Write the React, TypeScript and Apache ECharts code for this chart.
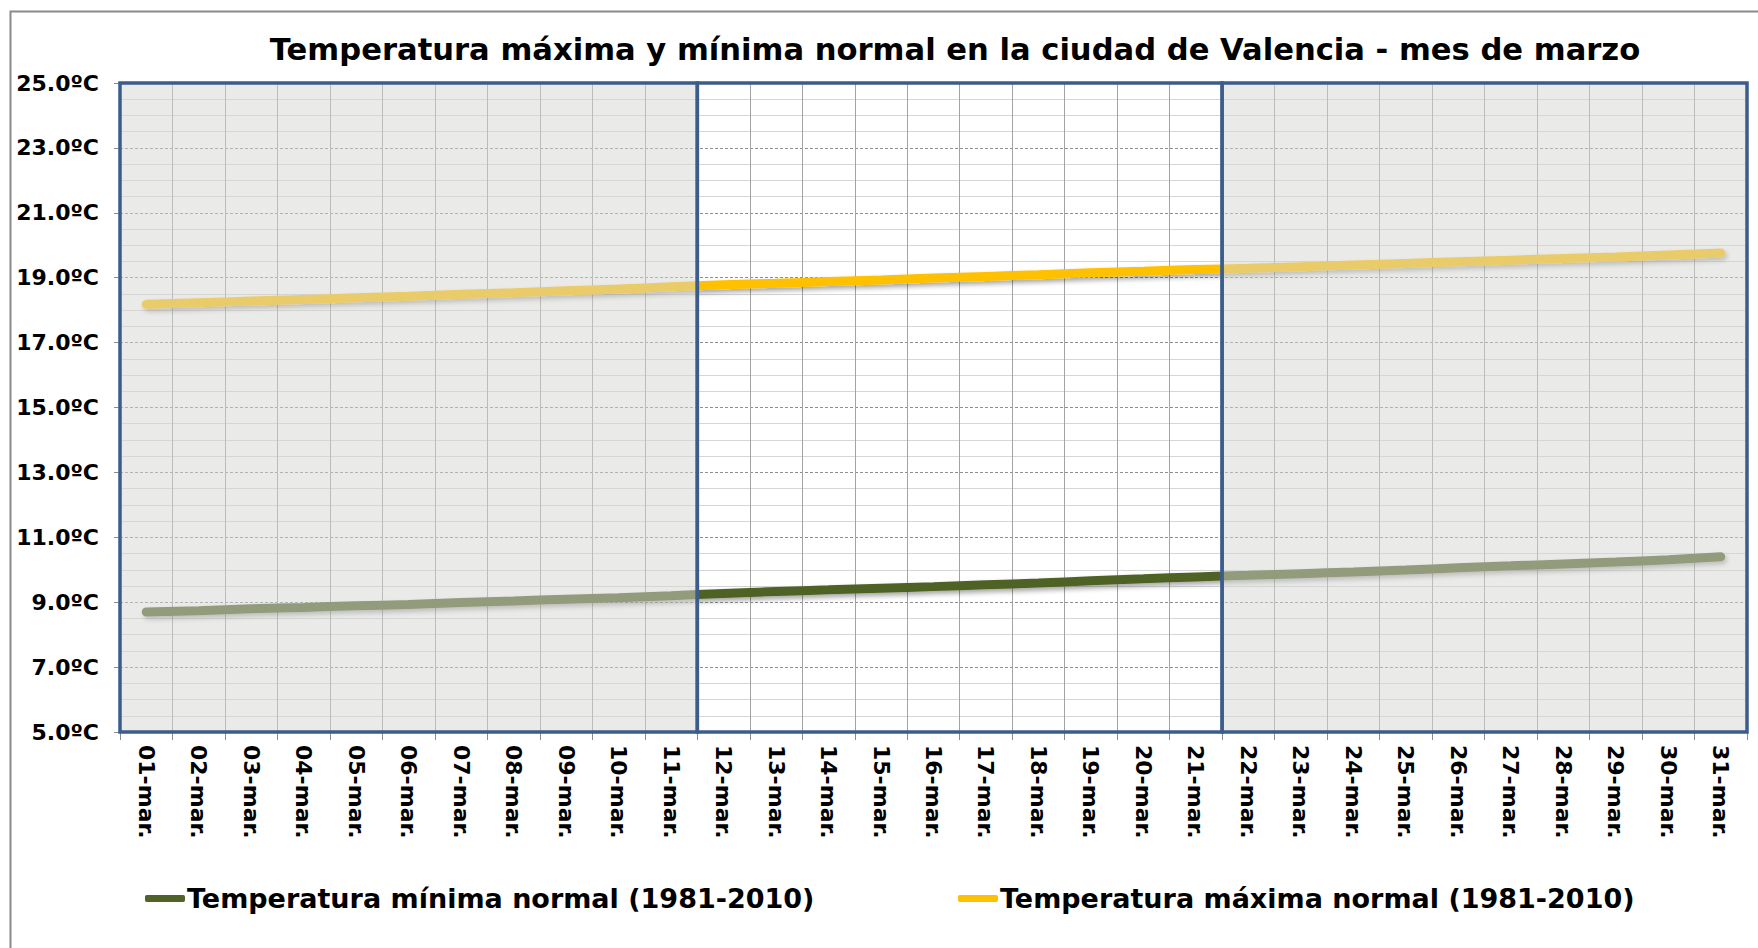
import React, { useEffect, useRef } from "react";
import * as echarts from "echarts";

const days: string[] = [
  "01-mar.", "02-mar.", "03-mar.", "04-mar.", "05-mar.", "06-mar.", "07-mar.", "08-mar.",
  "09-mar.", "10-mar.", "11-mar.", "12-mar.", "13-mar.", "14-mar.", "15-mar.", "16-mar.",
  "17-mar.", "18-mar.", "19-mar.", "20-mar.", "21-mar.", "22-mar.", "23-mar.", "24-mar.",
  "25-mar.", "26-mar.", "27-mar.", "28-mar.", "29-mar.", "30-mar.", "31-mar.",
];

const tMin: number[] = [
  8.70, 8.74, 8.80, 8.84, 8.89, 8.93, 8.99, 9.04, 9.09, 9.14, 9.20,
  9.27, 9.33, 9.38, 9.43, 9.48, 9.54, 9.59, 9.66, 9.72, 9.78,
  9.83, 9.88, 9.93, 9.99, 10.06, 10.12, 10.18, 10.24, 10.31, 10.40,
];

const tMax: number[] = [
  18.18, 18.23, 18.28, 18.33, 18.38, 18.43, 18.49, 18.54, 18.60, 18.65, 18.72,
  18.78, 18.83, 18.88, 18.93, 18.99, 19.04, 19.09, 19.15, 19.20, 19.25,
  19.29, 19.34, 19.39, 19.44, 19.49, 19.54, 19.59, 19.64, 19.70, 19.76,
];

// Shaded periods (in day boundaries): first decade, second decade, third decade
const periods: [number, number][] = [
  [0, 11],
  [11, 21],
  [21, 31],
];
const periodShaded: boolean[] = [true, false, true];

const TITLE = "Temperatura máxima y mínima normal en la ciudad de Valencia - mes de marzo";
const NAME_MIN = "Temperatura mínima normal (1981-2010)";
const NAME_MAX = "Temperatura máxima normal (1981-2010)";

const FONT = "DejaVu Sans";

export default function App() {
  const ref = useRef<HTMLDivElement>(null);

  useEffect(() => {
    if (!ref.current) return;
    const chart = echarts.init(ref.current, null, { renderer: "svg" });

    const shadow = {
      shadowColor: "rgba(0,0,0,0.35)",
      shadowBlur: 5,
      shadowOffsetX: 2,
      shadowOffsetY: 3,
    };

    const legendText = {
      fontFamily: FONT,
      fontWeight: "bold",
      fontSize: 27,
      color: "#000",
      padding: [0, 0, 0, -3],
    };

    chart.setOption({
      animation: false,
      backgroundColor: "#ffffff",
      textStyle: { fontFamily: FONT },
      title: {
        text: TITLE,
        left: 950,
        top: 29,
        textAlign: "center",
        textStyle: { fontFamily: FONT, fontWeight: "bold", fontSize: 30.6, color: "#000" },
      },
      legend: [
        {
          data: [NAME_MIN],
          left: 140,
          top: 880,
          icon: "roundRect",
          itemWidth: 40,
          itemHeight: 7,
          itemGap: 5,
          textStyle: legendText,
        },
        {
          data: [NAME_MAX],
          left: 953,
          top: 880,
          icon: "roundRect",
          itemWidth: 40,
          itemHeight: 7,
          itemGap: 5,
          textStyle: legendText,
        },
      ],
      graphic: [
        {
          type: "rect",
          left: 8,
          top: 9,
          shape: { width: 1800, height: 1000 },
          style: { fill: "none", stroke: "#8a8a8a", lineWidth: 2 },
          z: -1,
        },
      ],
      grid: { left: 120, right: 11, top: 83, bottom: 216 },
      xAxis: [
        {
          type: "category",
          data: days,
          boundaryGap: true,
          axisLine: { show: false },
          axisTick: { show: true, interval: 0, length: 8, lineStyle: { color: "#8c8c8c" } },
          axisLabel: {
            interval: 0,
            rotate: -90,
            margin: 13,
            fontFamily: FONT,
            fontWeight: "bold",
            fontSize: 22,
            color: "#000",
          },
          splitLine: { show: true, interval: 0, lineStyle: { color: "#a3a3a3", width: 1 } },
        },
        {
          type: "value",
          min: 0,
          max: 31,
          show: false,
        },
      ],
      yAxis: {
        type: "value",
        min: 5,
        max: 25,
        interval: 2,
        axisLine: { show: false },
        axisTick: { show: true, length: 6, lineStyle: { color: "#8c8c8c" } },
        axisLabel: {
          margin: 21,
          fontFamily: FONT,
          fontWeight: "bold",
          fontSize: 22,
          color: "#000",
          formatter: (v: number) => v.toFixed(1) + "ºC",
        },
        splitLine: { show: true, lineStyle: { color: "#8f8f8f", type: [3, 2], width: 1 } },
        minorTick: { show: false, splitNumber: 4 },
        minorSplitLine: { show: true, lineStyle: { color: "#d6d6d6", width: 1 } },
      },
      series: [
        {
          name: NAME_MIN,
          type: "line",
          data: tMin,
          symbol: "none",
          smooth: true,
          z: 3,
          color: "#4f6228",
          lineStyle: { color: "#4f6228", width: 9, cap: "round", ...shadow },
        },
        {
          name: NAME_MAX,
          type: "line",
          data: tMax,
          symbol: "none",
          smooth: true,
          z: 3,
          color: "#ffc000",
          lineStyle: { color: "#ffc000", width: 9, cap: "round", ...shadow },
        },
        {
          name: "periods",
          type: "line",
          xAxisIndex: 1,
          data: [],
          z: 10,
          silent: true,
          markArea: {
            silent: true,
            z: 10,
            data: periods.map((p, i) => [
              {
                xAxis: p[0],
                yAxis: 5,
                itemStyle: {
                  color: periodShaded[i] ? "rgba(214,214,210,0.5)" : "rgba(255,255,255,0)",
                  borderColor: "#3a5d8c",
                  borderWidth: 3.5,
                },
              },
              { xAxis: p[1], yAxis: 25 },
            ]),
          },
        },
      ],
    });

    return () => chart.dispose();
  }, []);

  return (
    <div
      ref={ref}
      style={{ position: "fixed", left: 0, top: 0, width: 1758, height: 948 }}
    />
  );
}
